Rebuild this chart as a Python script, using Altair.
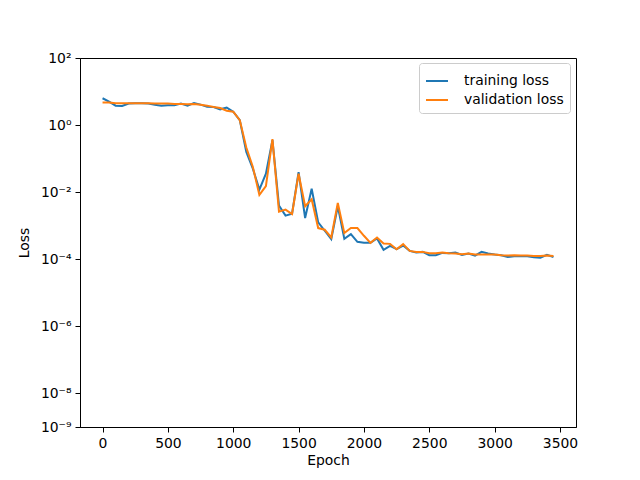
import altair as alt
import pandas as pd

epochs = list(range(0, 3500, 50))

training_loss = [
    6.31, 5.01, 3.80, 3.72, 4.37, 4.47, 4.47, 4.37, 4.07, 3.80,
    3.89, 3.89, 4.37, 3.80, 4.57, 4.07, 3.55, 3.47, 2.95, 3.31,
    2.51, 1.41, 0.158, 0.0501, 0.0120, 0.0355, 0.355, 0.00398, 0.00200, 0.00229,
    0.0398, 0.00170, 0.0126, 0.00126, 0.000708, 0.000398, 0.00380, 0.000407, 0.000562, 0.000331,
    0.000309, 0.000309, 0.000417, 0.000191, 0.000251, 0.000200, 0.000257, 0.000178, 0.000158, 0.000166,
    0.000132, 0.000132, 0.000155, 0.000151, 0.000158, 0.000135, 0.000148, 0.000129, 0.000166, 0.000148,
    0.000138, 0.000132, 0.000117, 0.000123, 0.000123, 0.000123, 0.000115, 0.000112, 0.000135, 0.000117,
]

validation_loss = [
    4.68, 4.68, 4.47, 4.47, 4.47, 4.47, 4.47, 4.47, 4.37, 4.37,
    4.37, 4.27, 4.27, 4.17, 4.27, 4.07, 3.80, 3.47, 3.24, 2.69,
    2.51, 1.41, 0.214, 0.0562, 0.00832, 0.0151, 0.380, 0.00263, 0.00302, 0.00224,
    0.0355, 0.00380, 0.00617, 0.000851, 0.000759, 0.000447, 0.00479, 0.000603, 0.000851, 0.000851,
    0.000501, 0.000309, 0.000447, 0.000295, 0.000288, 0.000200, 0.000282, 0.000178, 0.000166, 0.000166,
    0.000151, 0.000151, 0.000158, 0.000151, 0.000148, 0.000141, 0.000148, 0.000138, 0.000138, 0.000138,
    0.000138, 0.000132, 0.000129, 0.000132, 0.000129, 0.000129, 0.000126, 0.000126, 0.000129, 0.000126,
]

series_names = ["training loss", "validation loss"]
series_colors = ["#1f77b4", "#ff7f0e"]
x_ticks = [0, 500, 1000, 1500, 2000, 2500, 3000, 3500]
y_ticks = [1e-9, 1e-8, 1e-6, 1e-4, 1e-2, 1, 100]

rows = []
for i, e in enumerate(epochs):
    rows.append({"epoch": e, "loss": training_loss[i], "series": series_names[0], "order": 0})
for i, e in enumerate(epochs):
    rows.append({"epoch": e, "loss": validation_loss[i], "series": series_names[1], "order": 1})
df = pd.DataFrame(rows)

label_expr = (
    "round(log(datum.value)/LN10) == 2 ? '10²' : "
    "round(log(datum.value)/LN10) == 0 ? '10⁰' : "
    "round(log(datum.value)/LN10) == -2 ? '10⁻²' : "
    "round(log(datum.value)/LN10) == -4 ? '10⁻⁴' : "
    "round(log(datum.value)/LN10) == -6 ? '10⁻⁶' : "
    "round(log(datum.value)/LN10) == -8 ? '10⁻⁸' : "
    "round(log(datum.value)/LN10) == -9 ? '10⁻⁹' : ''"
)

font = "DejaVu Sans"
fs = 13.9

chart = alt.Chart(df).mark_line(strokeWidth=2.0).encode(
    x=alt.X("epoch:Q",
            scale=alt.Scale(domain=[-172.5, 3622.5], nice=False, zero=False),
            axis=alt.Axis(values=x_ticks, title="Epoch", grid=False, format="d",
                          tickSize=5, tickColor="black", domainColor="black",
                          labelFontSize=fs, titleFontSize=fs, labelFont=font, titleFont=font,
                          titleFontWeight="normal", labelColor="black", titleColor="black",
                          labelPadding=4, titlePadding=4)),
    y=alt.Y("loss:Q",
            scale=alt.Scale(type="log", domain=[1e-9, 100], nice=False),
            axis=alt.Axis(values=y_ticks, title="Loss", grid=False, labelExpr=label_expr,
                          tickSize=5, tickColor="black", domainColor="black",
                          labelFontSize=fs, titleFontSize=fs, labelFont=font, titleFont=font,
                          titleFontWeight="normal", labelColor="black", titleColor="black",
                          labelPadding=4, titlePadding=9)),
    color=alt.Color("series:N",
                    scale=alt.Scale(domain=series_names, range=series_colors),
                    legend=alt.Legend(title=None, orient="none", legendX=339, legendY=5,
                                      symbolType="stroke", symbolSize=484, symbolStrokeWidth=2,
                                      labelFontSize=fs, labelFont=font, labelColor="black",
                                      fillColor="white", strokeColor="#cccccc", cornerRadius=3,
                                      padding=6, rowPadding=0, labelOffset=15)),
    order="order:Q",
).properties(
    width=496, height=369,
    autosize=alt.AutoSizeParams(type="none"),
    padding={"left": 72, "top": 50, "right": 56, "bottom": 45},
).configure_view(stroke="black", strokeWidth=1)

chart.save("out.html", embed_options={"renderer": "svg", "actions": False})
